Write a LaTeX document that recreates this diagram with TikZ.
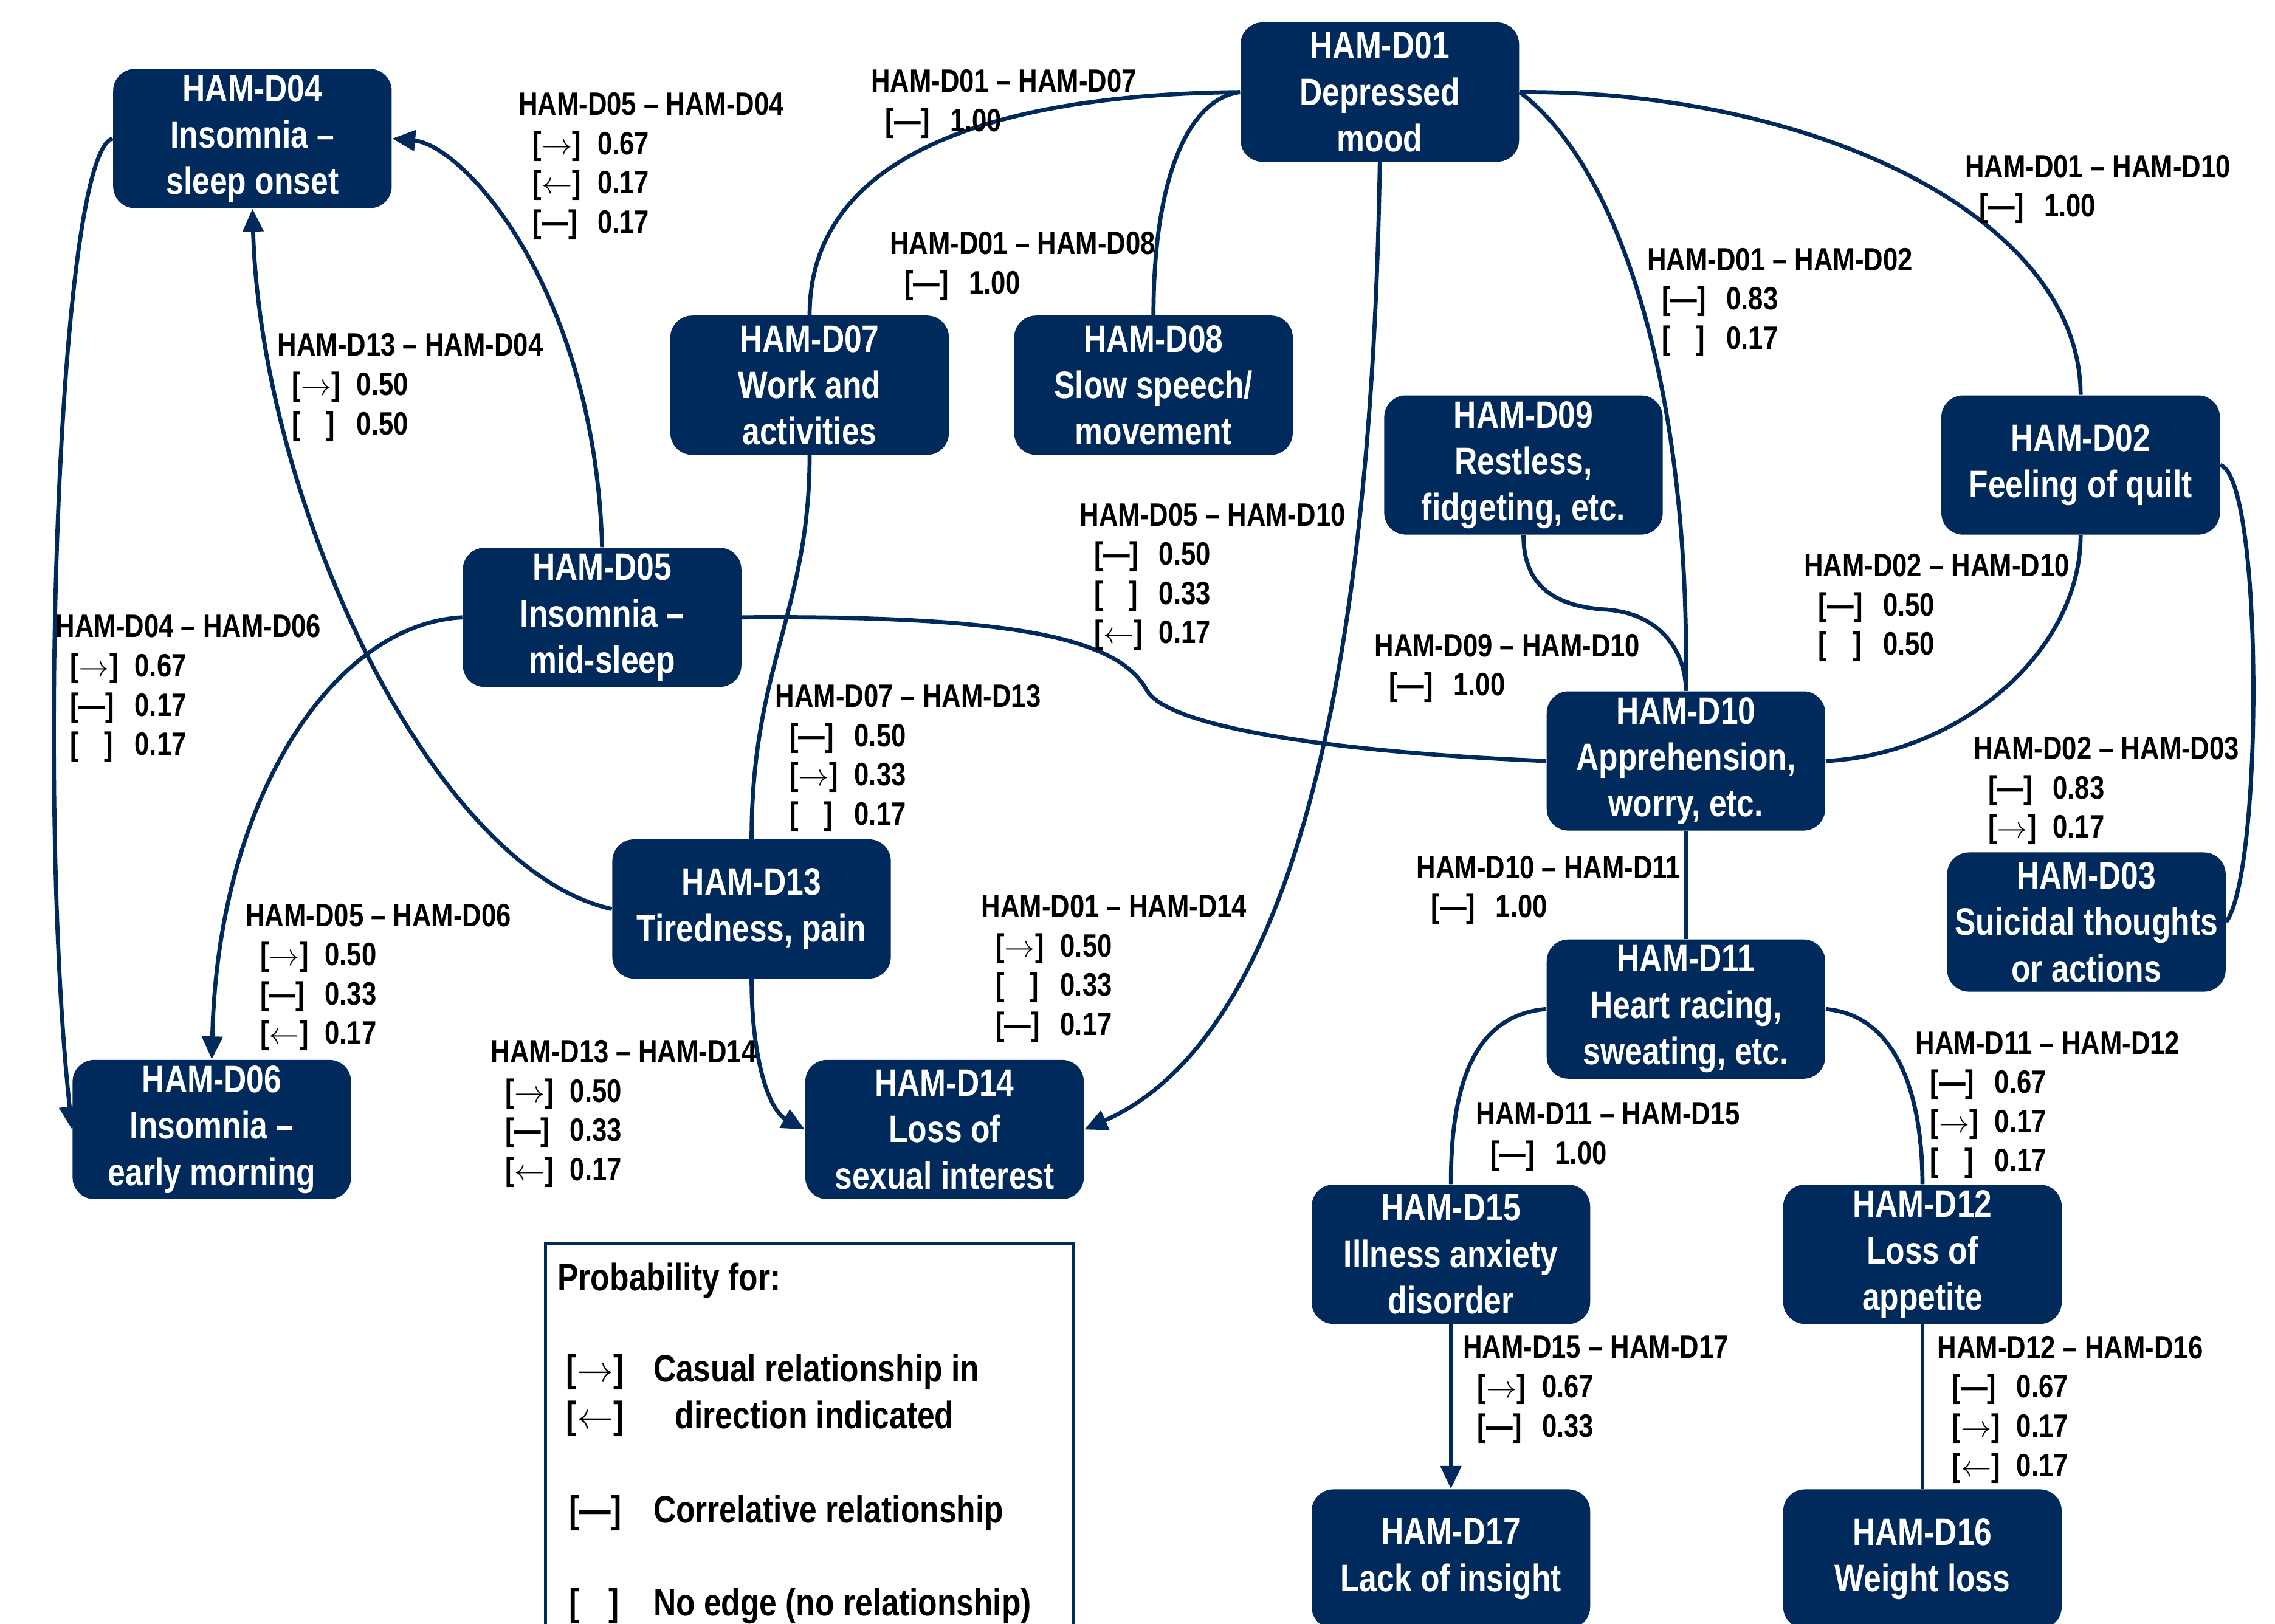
\documentclass[tikz,border=0pt]{standalone}
\usepackage{fontspec}
\setmainfont[FakeStretch=0.82]{Liberation Sans}
\usepackage{tikz}
\usetikzlibrary{arrows.meta}
\definecolor{hamblue}{HTML}{002A5C}

\begin{document}
\begin{tikzpicture}[x=0.02cm,y=-0.02cm]

\tikzset{ham/.style={fill=hamblue, rounded corners=0.3cm, minimum width=3.84cm, minimum height=1.92cm, inner sep=0pt, align=center, text=white, font=\fontsize{15}{18.2}\selectfont\bfseries},
plabel/.style={anchor=north west, inner sep=0pt, align=left, font=\fontsize{12.7}{15.4}\selectfont\bfseries},
legtext/.style={anchor=base west, inner sep=0pt, font=\fontsize{15}{18.2}\selectfont\bfseries},
link/.style={draw=hamblue, line width=1.6pt},
tip/.style={-{Triangle[length=9pt,width=8pt]}}}

\newcommand{\pto}{$\rightarrow$}
\newcommand{\pfrom}{$\leftarrow$}
\newcommand{\pcor}{—}
\newcommand{\pnone}{\hspace{0.35cm}}
\newcommand{\prob}[2]{\hspace*{0.2cm}\makebox[0.89cm][l]{[#1]}#2}

\useasboundingbox (0,0) rectangle (1568,1119);
\clip (0,0) rectangle (1568,1119);

% symptom boxes
\node[ham] (d01) at (951,63.5) {HAM-D01\\Depressed\\mood};
\node[ham] (d04) at (174,95.5) {HAM-D04\\Insomnia –\\sleep onset};
\node[ham] (d07) at (558,265.5) {HAM-D07\\Work and\\activities};
\node[ham] (d08) at (795,265.5) {HAM-D08\\Slow speech/\\movement};
\node[ham] (d09) at (1050,320.5) {HAM-D09\\Restless,\\fidgeting, etc.};
\node[ham] (d02) at (1434,320.5) {HAM-D02\\Feeling of quilt};
\node[ham] (d05) at (415,425.5) {HAM-D05\\Insomnia –\\mid-sleep};
\node[ham] (d10) at (1162,524.5) {HAM-D10\\Apprehension,\\worry, etc.};
\node[ham] (d03) at (1438,635.5) {HAM-D03\\Suicidal thoughts\\or actions};
\node[ham] (d13) at (518,626.5) {HAM-D13\\Tiredness, pain};
\node[ham] (d11) at (1162,695.5) {HAM-D11\\Heart racing,\\sweating, etc.};
\node[ham] (d06) at (146,778.5) {HAM-D06\\Insomnia –\\early morning};
\node[ham] (d14) at (651,778.5) {HAM-D14\\Loss of\\sexual interest};
\node[ham] (d15) at (1000,864.5) {HAM-D15\\Illness anxiety\\disorder};
\node[ham] (d12) at (1325,864.5) {HAM-D12\\Loss of\\appetite};
\node[ham] (d17) at (1000,1074.5) {HAM-D17\\Lack of insight};
\node[ham] (d16) at (1325,1074.5) {HAM-D16\\Weight loss};

% edges
\draw[link] (d01.west) .. controls (700,65) and (558,100) .. (d07.north);
\draw[link] (d01.west) .. controls (820,68) and (795,120) .. (d08.north);
\draw[link,tip] (d01.south) .. controls (945,500) and (880,720) .. (d14.east);
\draw[link] (d01.east) .. controls (1110,110) and (1165,250) .. (d10.north);
\draw[link] (d01.east) .. controls (1250,62) and (1434,150) .. (d02.north);
\draw[link,tip] (d04.west) .. controls (40,105) and (25,550) .. (d06.west);
\draw[link,tip] (d05.north) .. controls (410,200) and (320,100) .. (d04.east);
\draw[link,tip] (d13.west) .. controls (300,600) and (180,350) .. (d04.south);
\draw[link,tip] (d05.west) .. controls (230,430) and (150,550) .. (d06.north);
\draw[link] (d05.east) .. controls (700,424) and (770,440) .. (790,475) .. controls (805,505) and (950,520) .. (d10.west);
\draw[link] (d07.south) .. controls (558,420) and (518,460) .. (d13.north);
\draw[link,tip] (d13.south) .. controls (518,730) and (530,765) .. (d14.west);
\draw[link] (d09.south) .. controls (1050,410) and (1080,418) .. (1105,420) .. controls (1145,422) and (1162,450) .. (d10.north);
\draw[link] (d02.south) .. controls (1434,450) and (1350,520) .. (d10.east);
\draw[link] (d02.east) .. controls (1560,330) and (1560,600) .. (d03.east);
\draw[link] (d10.south) -- (d11.north);
\draw[link] (d11.west) .. controls (1010,700) and (1000,760) .. (d15.north);
\draw[link] (d11.east) .. controls (1310,700) and (1325,760) .. (d12.north);
\draw[link,tip] (d15.south) -- (d17.north);
\draw[link] (d12.south) -- (d16.north);

% edge probabilities
\node[plabel] (l0504) at (357,63.5) {HAM-D05 – HAM-D04\\\prob{\pto}{0.67}\\\prob{\pfrom}{0.17}\\\prob{\pcor}{0.17}};
\node[plabel] (l0107) at (600,47.5) {HAM-D01 – HAM-D07\\\prob{\pcor}{1.00}};
\node[plabel] (l0108) at (613,159.5) {HAM-D01 – HAM-D08\\\prob{\pcor}{1.00}};
\node[plabel] (l1304) at (191,229.5) {HAM-D13 – HAM-D04\\\prob{\pto}{0.50}\\\prob{\pnone}{0.50}};
\node[plabel] (l0110) at (1354,106.5) {HAM-D01 – HAM-D10\\\prob{\pcor}{1.00}};
\node[plabel] (l0102) at (1135,170.5) {HAM-D01 – HAM-D02\\\prob{\pcor}{0.83}\\\prob{\pnone}{0.17}};
\node[plabel] (l0510) at (744,346.5) {HAM-D05 – HAM-D10\\\prob{\pcor}{0.50}\\\prob{\pnone}{0.33}\\\prob{\pfrom}{0.17}};
\node[plabel] (l0406) at (38,423.5) {HAM-D04 – HAM-D06\\\prob{\pto}{0.67}\\\prob{\pcor}{0.17}\\\prob{\pnone}{0.17}};
\node[plabel] (l0210) at (1243,381.5) {HAM-D02 – HAM-D10\\\prob{\pcor}{0.50}\\\prob{\pnone}{0.50}};
\node[plabel] (l0910) at (947,436.5) {HAM-D09 – HAM-D10\\\prob{\pcor}{1.00}};
\node[plabel] (l0713) at (534,471.5) {HAM-D07 – HAM-D13\\\prob{\pcor}{0.50}\\\prob{\pto}{0.33}\\\prob{\pnone}{0.17}};
\node[plabel] (l0203) at (1360,507.5) {HAM-D02 – HAM-D03\\\prob{\pcor}{0.83}\\\prob{\pto}{0.17}};
\node[plabel] (l1011) at (976,589.5) {HAM-D10 – HAM-D11\\\prob{\pcor}{1.00}};
\node[plabel] (l0506) at (169,622.5) {HAM-D05 – HAM-D06\\\prob{\pto}{0.50}\\\prob{\pcor}{0.33}\\\prob{\pfrom}{0.17}};
\node[plabel] (l0114) at (676,616.5) {HAM-D01 – HAM-D14\\\prob{\pto}{0.50}\\\prob{\pnone}{0.33}\\\prob{\pcor}{0.17}};
\node[plabel] (l1314) at (338,716.5) {HAM-D13 – HAM-D14\\\prob{\pto}{0.50}\\\prob{\pcor}{0.33}\\\prob{\pfrom}{0.17}};
\node[plabel] (l1112) at (1320,710.5) {HAM-D11 – HAM-D12\\\prob{\pcor}{0.67}\\\prob{\pto}{0.17}\\\prob{\pnone}{0.17}};
\node[plabel] (l1115) at (1017,759.5) {HAM-D11 – HAM-D15\\\prob{\pcor}{1.00}};
\node[plabel] (l1517) at (1008,920.5) {HAM-D15 – HAM-D17\\\prob{\pto}{0.67}\\\prob{\pcor}{0.33}};
\node[plabel] (l1216) at (1335,920.5) {HAM-D12 – HAM-D16\\\prob{\pcor}{0.67}\\\prob{\pto}{0.17}\\\prob{\pfrom}{0.17}};

% legend
\draw[hamblue, line width=1.2pt] (376,857) rectangle (740,1140);
\node[legtext] (leg0) at (384,889.5) {Probability for:};
\node[legtext] (leg1) at (390,952.5) {\makebox[1.2cm][l]{[\pto]}Casual relationship in};
\node[legtext] (leg2) at (390,984.5) {\makebox[1.5cm][l]{[\pfrom]}direction indicated};
\node[legtext] (leg3) at (392,1049.5) {\makebox[1.16cm][l]{[\pcor]}Correlative relationship};
\node[legtext] (leg4) at (392,1113.5) {\makebox[1.16cm][l]{[\hspace{0.4cm}]}No edge (no relationship)};

\end{tikzpicture}
\end{document}
